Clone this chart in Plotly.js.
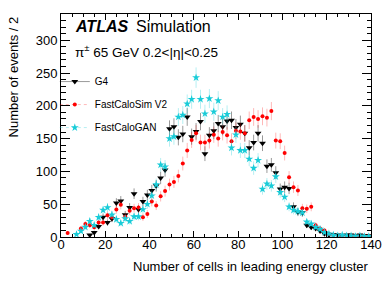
<!DOCTYPE html>
<html><head><meta charset="utf-8">
<script src="https://cdn.plot.ly/plotly-3.0.1.min.js"></script>
<style>html,body{margin:0;padding:0;background:#fff}#chart{width:390px;height:281px}</style>
</head><body><div id="chart"></div>
<script>
// bin centres (bin width 2)
const binCenters = [1,3,5,7,9,11,13,15,17,19,21,23,25,27,29,31,33,35,37,39,41,43,45,47,49,51,53,55,57,59,61,63,65,67,69,71,73,75,77,79,81,83,85,87,89,91,93,95,97,99,101,103,105,107,109,111,113,115,117,119,121,123,125,127,129,131,133,135,137,139];

const g4 = [null,null,null,null,null,null,3,7,16,30,22,28,52,55,34,45,66,42,54,64,71,78,90,102,165,168,152,157,183,153,161,176,127,155,162,173,168,177,178,167,172,158,136,144,158,143,108,110,98,73,76,74,46,38,37,18,15,13,9,5,3,4,3,2,3,3,2,3,2,2];

const fastCaloSimV2 = [null,6,null,null,13,20,18,15,22,22,33,30,42,49,31,40,44,45,30,35,54,48,62,70,80,84,93,112,132,148,158,144,144,147,156,150,160,155,146,162,161,158,178,183,180,184,182,192,147,146,128,91,76,71,44,43,46,18,13,10,5,3,1,2,1,2,1,1,1,1];

const fastCaloGAN = [null,null,null,4,9,15,24,18,30,41,45,34,27,21,28,24,31,31,42,50,63,80,110,107,150,153,183,186,203,210,243,210,188,211,191,208,183,187,136,156,132,132,119,105,117,73,81,78,92,68,61,46,41,39,37,23,20,15,12,7,5,3,2,3,2,2,1,2,1,1];

const seriesNames = ['G4', 'FastCaloSim V2', 'FastCaloGAN'];
const xTitle = 'Number of cells in leading energy cluster';
const yTitle = 'Number of events / 2';

const FONT = 'Liberation Sans, Arial, Helvetica, sans-serif';
const CYAN = '#18ccd8';

const styles = [
  {symbol:'triangle-down', size:6, color:'#000000', err:'rgba(0,0,0,0.4)', dash:'solid'},
  {symbol:'circle', size:4, color:'#ff0000', err:'rgba(255,0,0,0.28)', dash:'dot'},
  {symbol:'star', size:6, color:CYAN, err:'rgba(24,204,216,0.32)', dash:'dot'}
];
const ys = [g4, fastCaloSimV2, fastCaloGAN];

const traces = [];
ys.forEach((y, i) => {
  const s = styles[i];
  traces.push({
    type:'scatter', mode:'markers', x: binCenters, y: y, name: seriesNames[i],
    showlegend:false, legendgroup:'g'+i,
    marker:{symbol:s.symbol, size:s.size, color:s.color, line:{width:0}},
    error_y:{type:'sqrt', visible:true, color:s.err, thickness:1, width:0}
  });
});
// legend entries
ys.forEach((y, i) => {
  const s = styles[i];
  traces.push({
    type:'scatter', mode:'lines+markers', x:[null], y:[null], name: seriesNames[i],
    legendgroup:'g'+i, showlegend:true,
    line:{color:s.err, width:1, dash:s.dash},
    marker:{symbol:s.symbol, size:s.size, color:s.color, line:{width:0}}
  });
});

const layout = {
  width:390, height:281,
  margin:{l:61, r:19, t:14, b:44, pad:0},
  paper_bgcolor:'#ffffff', plot_bgcolor:'#ffffff',
  font:{family:FONT, size:13, color:'#000'},
  showlegend:true,
  legend:{x:-0.02, y:0.762, xanchor:'left', yanchor:'top', bgcolor:'rgba(0,0,0,0)',
          font:{family:FONT, size:10, color:'#000'}, tracegroupgap:4, itemwidth:30, traceorder:'grouped'},
  xaxis:{range:[0,140], tick0:0, dtick:20, ticks:'inside', ticklen:6, tickwidth:1, tickcolor:'#000',
         showline:true, linecolor:'#000', linewidth:1, mirror:'ticks', showgrid:false, zeroline:false,
         tickfont:{family:FONT, size:13}, ticklabelstandoff:-5,
         minor:{dtick:5, ticks:'inside', ticklen:3, tickcolor:'#000', tickwidth:1, showgrid:false}},
  yaxis:{range:[0,340], tick0:0, dtick:50, ticks:'inside', ticklen:9, tickwidth:1, tickcolor:'#000',
         showline:true, linecolor:'#000', linewidth:1, mirror:'ticks', showgrid:false, zeroline:false,
         tickfont:{family:FONT, size:13},
         minor:{dtick:10, ticks:'inside', ticklen:4.5, tickcolor:'#000', tickwidth:1, showgrid:false}},
  annotations:[
    {text:'<b><i>ATLAS</i></b>', xref:'paper', yref:'paper', x:0.040, y:0.946, xanchor:'left', yanchor:'middle',
     showarrow:false, font:{family:FONT, size:16}},
    {text:'Simulation', xref:'paper', yref:'paper', x:0.236, y:0.946, xanchor:'left', yanchor:'middle',
     showarrow:false, font:{family:FONT, size:16}},
    {text:'π<sup>±</sup> 65 GeV 0.2&lt;|η|&lt;0.25', xref:'paper', yref:'paper', x:0.040, y:0.834, xanchor:'left', yanchor:'middle',
     showarrow:false, font:{family:FONT, size:13.5}},
    {text:xTitle, xref:'paper', yref:'paper', x:1.0, y:-0.133, xanchor:'right', yanchor:'middle',
     showarrow:false, font:{family:FONT, size:13}},
    {text:yTitle, xref:'paper', yref:'paper', x:-0.152, y:1.0, xanchor:'center', yanchor:'top', textangle:-90,
     showarrow:false, font:{family:FONT, size:13}}
  ]
};

Plotly.newPlot('chart', traces, layout, {staticPlot:true, displayModeBar:false});
</script>
</body></html>
